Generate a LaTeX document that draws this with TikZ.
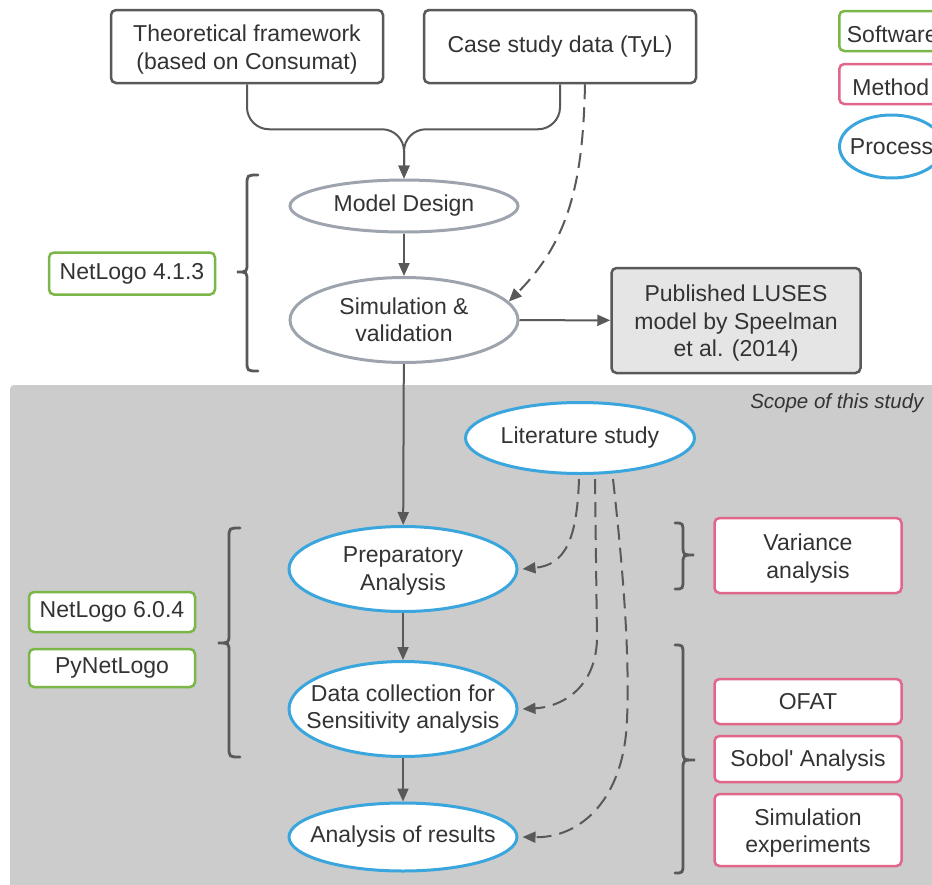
\documentclass[tikz,border=0pt]{standalone}
\usepackage{fontspec}
\setmainfont{Liberation Sans}[Ligatures=TeXOff]
\usetikzlibrary{shapes.geometric,arrows.meta}

\definecolor{ink}{HTML}{595959}
\definecolor{txt}{HTML}{333333}
\definecolor{procgray}{HTML}{9DA4AE}
\definecolor{procblue}{HTML}{3AA6DD}
\definecolor{softgreen}{HTML}{7AB648}
\definecolor{methpink}{HTML}{E0668A}
\definecolor{scopebg}{HTML}{CCCCCC}
\definecolor{pubfill}{HTML}{E5E5E5}

% curly braces: x of the spine, top y, bottom y, y of the tip, x of the tip
\newcommand\bracetoleft[5]{%
  \draw[brace] ({#1+11},#2) .. controls (#1,#2) .. (#1,{#2+10})
    -- (#1,{#4-9}) .. controls (#1,#4) .. (#5,#4)
    .. controls (#1,#4) .. (#1,{#4+9})
    -- (#1,{#3-10}) .. controls (#1,#3) .. ({#1+11},#3);}
\newcommand\bracetoright[5]{%
  \draw[brace] ({#1-8},#2) .. controls (#1,#2) .. (#1,{#2+10})
    -- (#1,{#4-9}) .. controls (#1,#4) .. (#5,#4)
    .. controls (#1,#4) .. (#1,{#4+9})
    -- (#1,{#3-10}) .. controls (#1,#3) .. ({#1-8},#3);}

\begin{document}
\begin{tikzpicture}[x=1pt, y=-1pt,
  every node/.style={font=\fontsize{23}{27.5}\selectfont, text=txt},
  flow/.style={draw=ink, line width=2pt, -{Triangle[length=13pt,width=11pt]}},
  hint/.style={flow, dash pattern=on 15pt off 8pt},
  box/.style={draw=ink, line width=2.5pt, rounded corners=5pt, fill=white,
    align=center, inner sep=0pt},
  soft/.style={box, draw=softgreen},
  meth/.style={box, draw=methpink},
  proc/.style={ellipse, draw=procblue, line width=3pt, fill=white, inner sep=0pt},
  oldproc/.style={proc, draw=procgray},
  lbl/.style={align=center},
  say/.style={label={[lbl]center:#1}},
  saylow/.style={label={[lbl,yshift=-3pt]center:#1}},
  brace/.style={draw=ink, line width=2.8pt, line cap=round},
]
\useasboundingbox (0,0) rectangle (932,884);
\clip (0,0) rectangle (932,884);

% study scope
\fill[scopebg, rounded corners=4pt] (10,385) rectangle (960,910);
\node[font=\fontsize{20.5}{24}\selectfont\itshape, anchor=east] (scope) at (927,403) {Scope of this study};

% inputs
\node[box, minimum width=272, minimum height=73,
  saylow={Theoretical framework\\(based on Consumat)}] (tf) at (247,46.5) {};
\node[box, minimum width=272, minimum height=73] (cs) at (560,46.5)
  {Case study data (TyL)};

% legend
\node[soft, anchor=west, minimum width=106, minimum height=40,
  saylow=Software] (lgsw) at (838,31) {};
\node[meth, anchor=west, minimum width=103, minimum height=40,
  saylow=Method] (lgme) at (838,84) {};
\node[proc, anchor=west, minimum width=104, minimum height=63,
  say=Process] (lgpr) at (838,146.5) {};

% original model
\node[oldproc, minimum width=228, minimum height=52, say=Model Design] (md) at (404,206) {};
\node[oldproc, minimum width=228, minimum height=85,
  say={Simulation \&\\validation}] (sim) at (404,320) {};
\node[box, fill=pubfill, minimum width=249, minimum height=105,
  saylow={Published LUSES\\model by Speelman\\et al. (2014)}] (pub) at (736,320.5) {};
\node[soft, minimum width=166, minimum height=42] (nl4) at (132,273.5) {NetLogo 4.1.3};

% this study
\node[proc, minimum width=229, minimum height=71, say=Literature study] (lit) at (580,438) {};
\node[proc, minimum width=228, minimum height=85,
  label={[lbl,yshift=-2pt]center:Preparatory\\Analysis}] (prep) at (403,569) {};
\node[proc, minimum width=228, minimum height=95,
  say={Data collection for\\Sensitivity analysis}] (data) at (403,709) {};
\node[proc, minimum width=228, minimum height=68, say=Analysis of results] (res) at (403,837) {};

\node[soft, minimum width=166, minimum height=40] (nl6) at (112,612) {NetLogo 6.0.4};
\node[soft, minimum width=166, minimum height=38] (pynl) at (112,668) {PyNetLogo};

\node[meth, minimum width=187, minimum height=75,
  saylow={Variance\\analysis}] (var) at (808,555.5) {};
\node[meth, minimum width=187, minimum height=45] (ofat) at (808,701.5) {OFAT};
\node[meth, minimum width=187, minimum height=46,
  label={[lbl,yshift=-2pt]center:Sobol' Analysis}] (sobol) at (808,759) {};
\node[meth, minimum width=187, minimum height=72,
  saylow={Simulation\\experiments}] (simexp) at (808,830) {};

% braces
\bracetoleft{247}{175}{371}{272}{237}
\bracetoleft{229}{528}{757}{643}{218}
\bracetoright{683}{523}{589}{555}{694}
\bracetoright{683}{645}{873}{760}{695}

% connectors
\draw[flow, rounded corners=22pt] (tf.south) -- ++(0,45) -| (md.north);
\draw[flow, rounded corners=22pt] (cs.south) -- ++(0,45) -| (md.north);
\draw[hint] ([xshift=25pt]cs.south) .. controls (583,180) and (570,240) .. (sim.10);
\draw[flow] (md) -- (sim);
\draw[flow] (sim) -- (pub);
\draw[flow] (sim) -- (prep);
\draw[flow] (prep) -- (data);
\draw[flow] (data) -- (res);

\draw[hint] ([shift={(-1,4)}]lit.south) .. controls (577,540) and (565,565) .. ([xshift=4pt]prep.east);
\draw[hint] ([shift={(15,4)}]lit.south) -- (597,640) .. controls (595,690) and (560,707) .. ([xshift=4pt]data.east);
\draw[hint] ([shift={(33,4)}]lit.south) .. controls (622,560) and (630,650) .. (627,720)
  .. controls (624,800) and (580,838) .. ([xshift=4pt]res.east);
\end{tikzpicture}
\end{document}
